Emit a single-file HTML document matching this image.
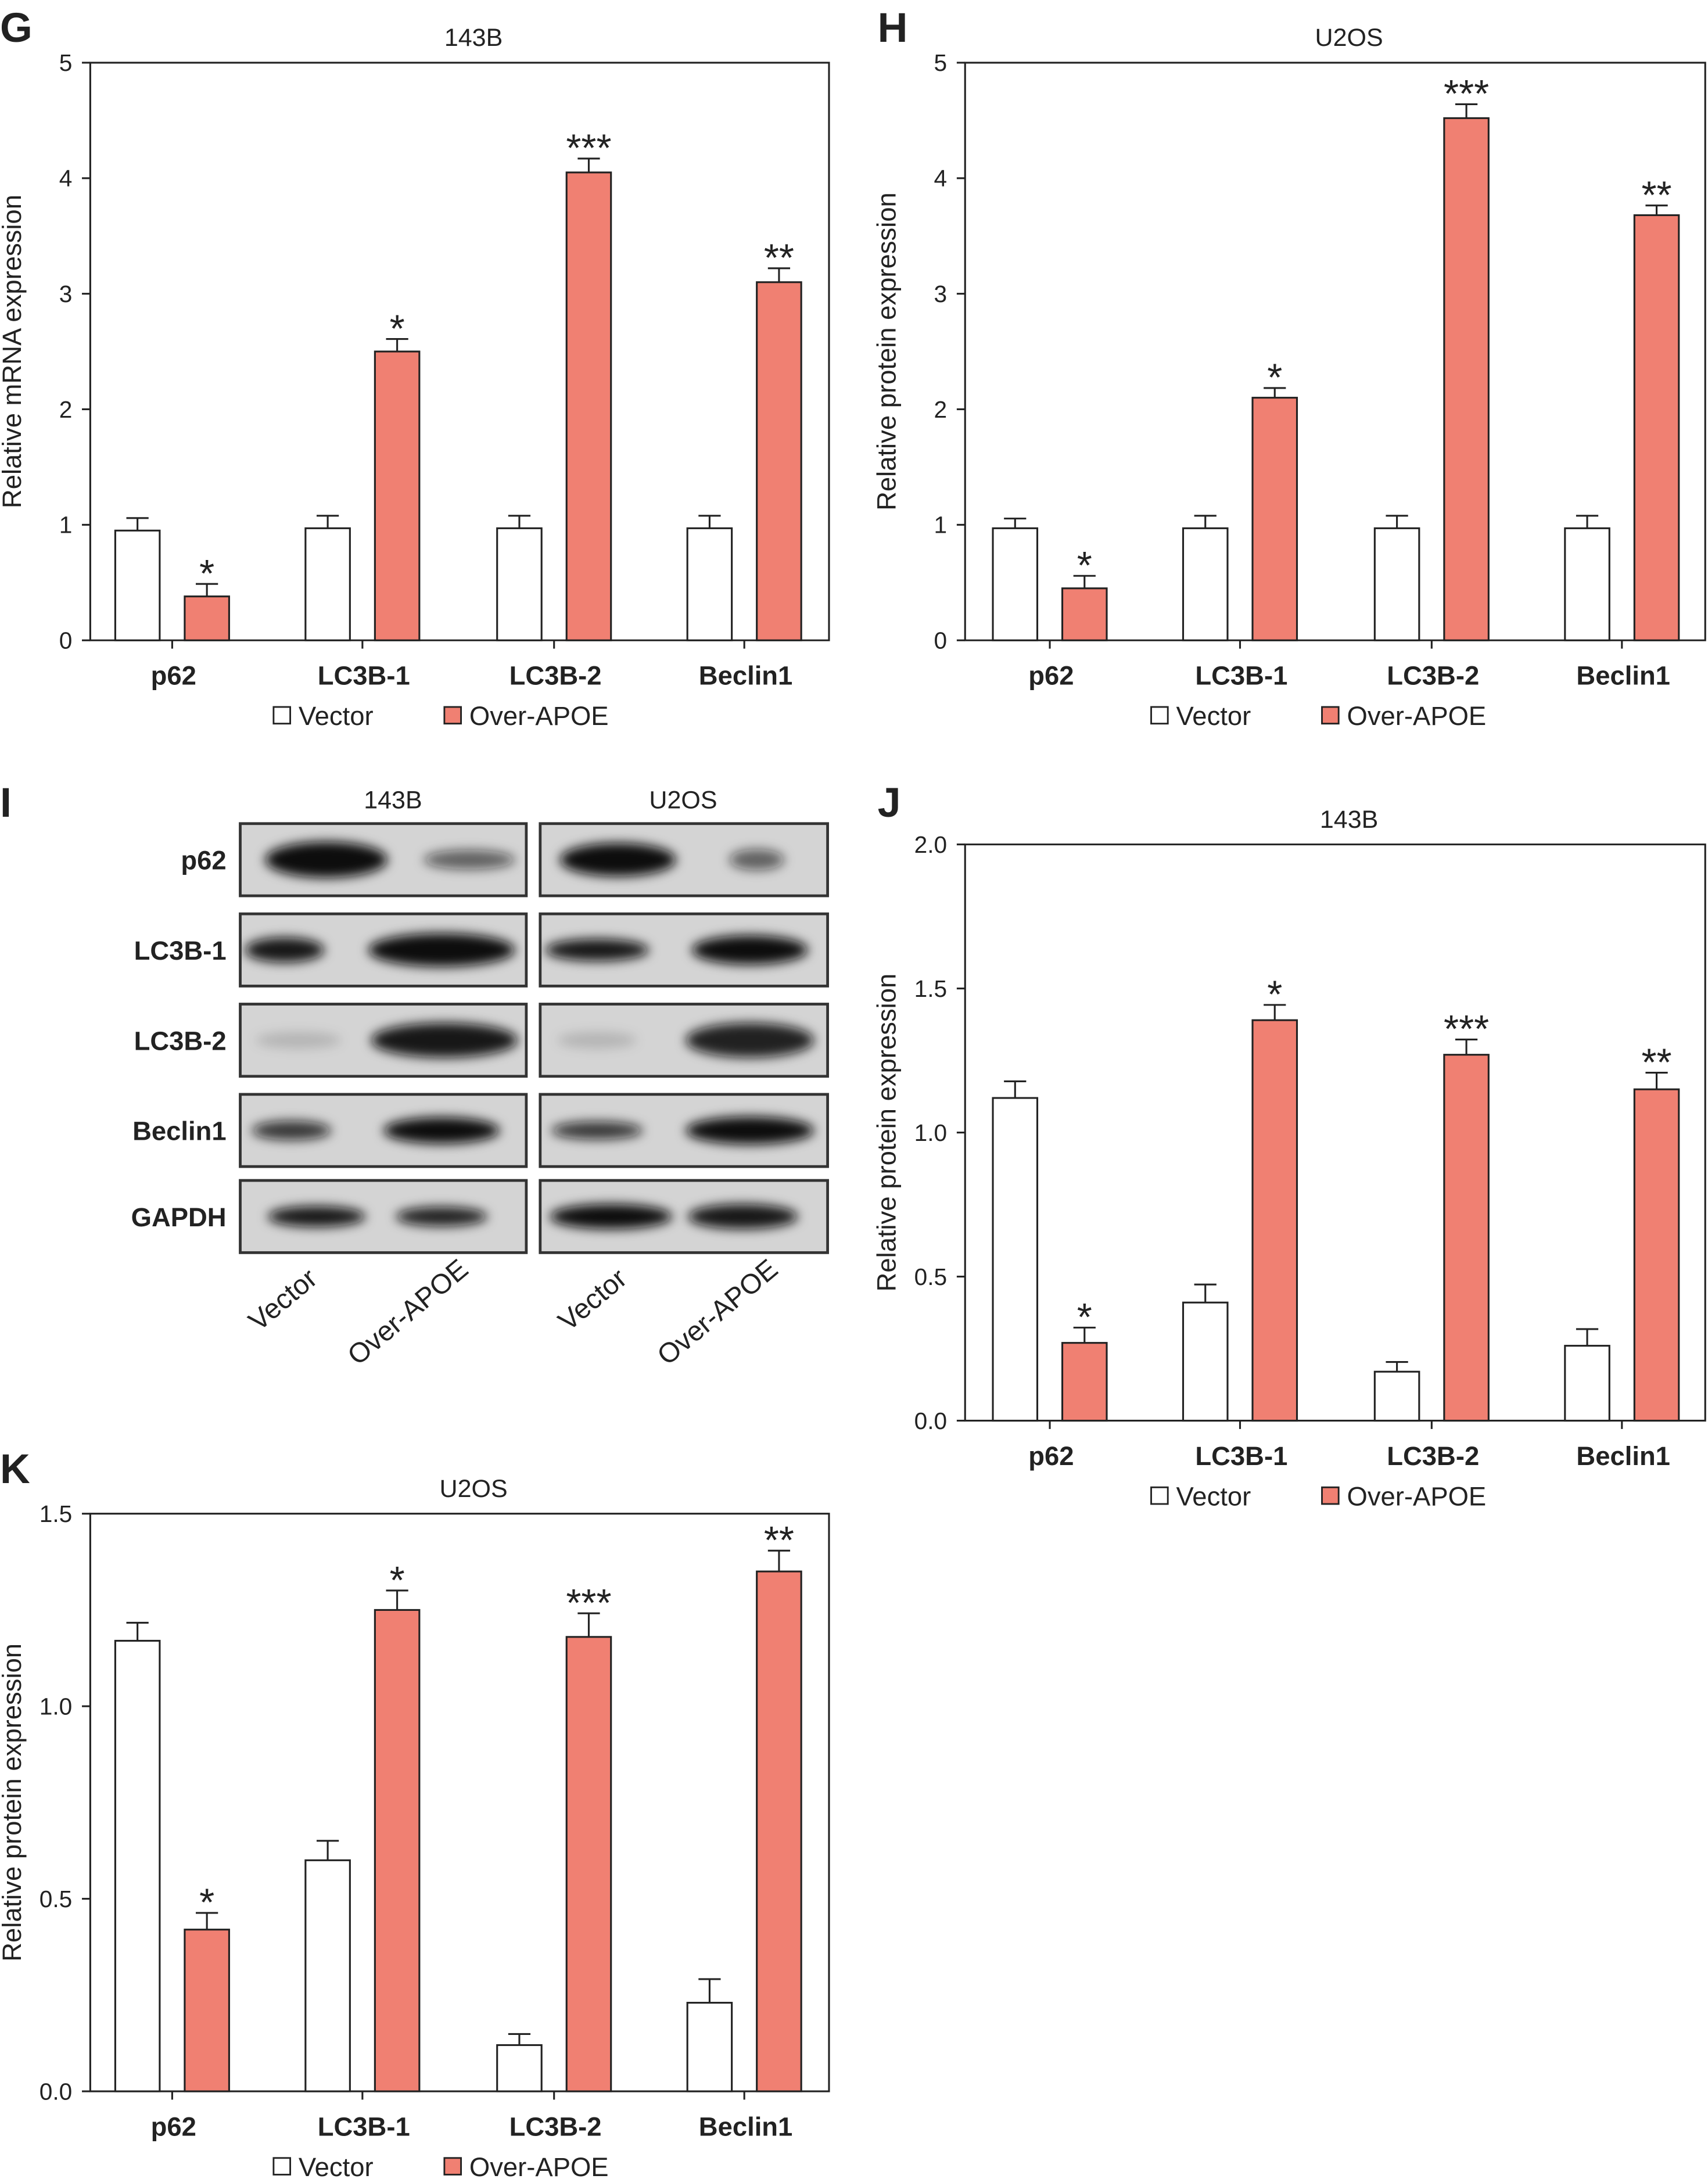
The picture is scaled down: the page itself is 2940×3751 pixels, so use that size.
<!DOCTYPE html>
<html><head><meta charset="utf-8">
<style>
html,body{margin:0;padding:0;background:#fff;}
svg{display:block;}
text{font-family:"Liberation Sans",sans-serif;fill:#222;}
</style></head>
<body>
<svg id="s" width="2940" height="3751" viewBox="0 0 1230 1569" xmlns="http://www.w3.org/2000/svg">
<defs>
<filter id="bl" x="-30%" y="-100%" width="160%" height="300%"><feGaussianBlur stdDeviation="4"/></filter>
<clipPath id="c1"><rect x="174" y="580" width="204" height="330"/></clipPath>
<clipPath id="c2"><rect x="390" y="580" width="205" height="330"/></clipPath>
</defs>
<g id="root"></g>
</svg>
<script>
const NS="http://www.w3.org/2000/svg";
const root=document.getElementById('root');
function el(t,a,txt,p){const e=document.createElementNS(NS,t);for(const k in a)e.setAttribute(k,a[k]);if(txt!==undefined&&txt!==null)e.textContent=txt;(p||root).appendChild(e);return e;}
function txt(x,y,s,o){o=o||{};return el('text',Object.assign({x:x,y:y,'font-size':o.fs||17,'text-anchor':o.a||'middle','font-weight':o.w||'normal'},o.extra||{}),s);}
const red="#f08072";
function chart(c){
  const {x0,x1,yT,yB,max,ticks,title,ylab,vec,ove,err,stars,dx}=c;
  const sc=(yB-yT)/max;
  const Y=v=>yB-v*sc;
  el('path',{d:`M${x0},${yT}H${x1}V${yB}H${x0}Z`,fill:'none',stroke:'#222','stroke-width':1.3});
  ticks.forEach(t=>{el('line',{x1:x0-6,x2:x0,y1:Y(t[0]),y2:Y(t[0]),stroke:'#222','stroke-width':1.3});txt(x0-13,Y(t[0])+6,t[1],{a:'end',fs:17});});
  txt((x0+x1)/2+(c.tdx||0),yT-12,title,{fs:18});
  txt(0,0,ylab,{fs:19,extra:{transform:`translate(${x0-50},${(yT+yB)/2}) rotate(-90)`}});
  const gx=[83,220,358,495].map(v=>v+dx);
  const cats=['p62','LC3B-1','LC3B-2','Beclin1'];
  gx.forEach((g,i)=>{
    const bars=[[g,vec[i],'#fff',err[0][i]],[g+50,ove[i],red,err[1][i]]];
    bars.forEach(b=>{
      const yt=Y(b[1]);
      el('line',{x1:b[0]+16,x2:b[0]+16,y1:yt,y2:yt-b[3],stroke:'#222','stroke-width':1.3});
      el('line',{x1:b[0]+8,x2:b[0]+24,y1:yt-b[3],y2:yt-b[3],stroke:'#222','stroke-width':1.3});
      el('rect',{x:b[0],y:yt,width:32,height:yB-yt,fill:b[2],stroke:'#222','stroke-width':1.3});
    });
    const yt=Y(ove[i])-err[1][i];
    txt(g+66,yt+2,stars[i],{fs:28});
    el('line',{x1:g+41,x2:g+41,y1:yB,y2:yB+6,stroke:'#222','stroke-width':1.3});
    txt(g+42,yB+32,cats[i],{fs:19,w:'bold'});
  });
  const ly=yB+61;
  el('rect',{x:gx[0]+114,y:ly-13,width:12,height:12,fill:'#fff',stroke:'#222','stroke-width':1.2});
  txt(gx[0]+132,ly,'Vector',{a:'start',fs:19});
  el('rect',{x:gx[0]+237,y:ly-13,width:12,height:12,fill:red,stroke:'#222','stroke-width':1.2});
  txt(gx[0]+255,ly,'Over-APOE',{a:'start',fs:19});
}
function T(n,d){const a=[];for(let i=0;i<=n;i++)a.push([i*d,d<1?(i*d).toFixed(1):String(i)]);return a;}
chart({x0:65,x1:597,yT:45,yB:461,max:5,ticks:T(5,1),title:'143B',ylab:'Relative mRNA expression',
 vec:[0.95,0.97,0.97,0.97],ove:[0.38,2.5,4.05,3.1],err:[[9,9,9,9],[9,9,10,10]],stars:['*','*','***','**'],dx:0,tdx:10});
chart({x0:695,x1:1228,yT:45,yB:461,max:5,ticks:T(5,1),title:'U2OS',ylab:'Relative protein expression',
 vec:[0.97,0.97,0.97,0.97],ove:[0.45,2.1,4.52,3.68],err:[[7,9,9,9],[9,7,10,7]],stars:['*','*','***','**'],dx:632,tdx:10});
chart({x0:695,x1:1228,yT:608,yB:1023,max:2,ticks:T(4,0.5),title:'143B',ylab:'Relative protein expression',
 vec:[1.12,0.41,0.17,0.26],ove:[0.27,1.39,1.27,1.15],err:[[12,13,7,12],[11,11,11,12]],stars:['*','*','***','**'],dx:632,tdx:10});
chart({x0:65,x1:597,yT:1090,yB:1506,max:1.5,ticks:T(3,0.5),title:'U2OS',ylab:'Relative protein expression',
 vec:[1.17,0.60,0.12,0.23],ove:[0.42,1.25,1.18,1.35],err:[[13,14,8,17],[12,14,17,15]],stars:['*','*','***','**'],dx:0,tdx:10});
[['G',0,30],['H',632,30],['I',0,588],['J',632,588],['K',0,1068]].forEach(l=>txt(l[1],l[2],l[0],{a:'start',fs:30,w:'bold'}));
txt(283,582,'143B',{fs:18});txt(492,582,'U2OS',{fs:18});
const rows=[['p62',593],['LC3B-1',658],['LC3B-2',723],['Beclin1',788],['GAPDH',850]];
const bands={
 'p62':[[235,20,20,1],[338,15,8,0.6],[445,19,18,1],[545,9,9,0.6]],
 'LC3B-1':[[205,13,12,0.95],[318,24,18,1],[430,17,10,0.95],[540,19,15,1]],
 'LC3B-2':[[215,14,6,0.15],[320,24,19,0.95],[430,13,6,0.15],[540,21,19,0.9]],
 'Beclin1':[[210,13,8,0.8],[318,19,13,1],[430,15,7,0.8],[540,21,14,1]],
 'GAPDH':[[228,16,9,0.95],[318,15,8,0.9],[440,20,12,1],[535,18,12,0.95]]};
rows.forEach(r=>{
  const [n,y]=r;
  [173,389].forEach(x=>el('rect',{x:x,y:y,width:(x==173?206:207),height:52,fill:'#d4d4d4',stroke:'#333','stroke-width':2}));
  txt(163,y+33,n,{a:'end',fs:19,w:'bold'});
});
const g1=el('g',{'clip-path':'url(#c1)'}),g2=el('g',{'clip-path':'url(#c2)'});
rows.forEach(r=>{
  const [n,y]=r;
  bands[n].forEach(b=>{
    const w=b[1]*2.2;
    el('ellipse',{cx:b[0],cy:y+26,rx:w,ry:b[2]/2+3,fill:'#111','fill-opacity':b[3],filter:'url(#bl)'},null,b[0]<385?g1:g2);
  });
});
[['Vector',208,941],['Over-APOE',298,950],['Vector',431,941],['Over-APOE',521,950]].forEach(l=>{
  txt(0,0,l[0],{fs:20,a:'middle',extra:{transform:`translate(${l[1]},${l[2]}) rotate(-40)`}});
});
</script>
</body></html>
